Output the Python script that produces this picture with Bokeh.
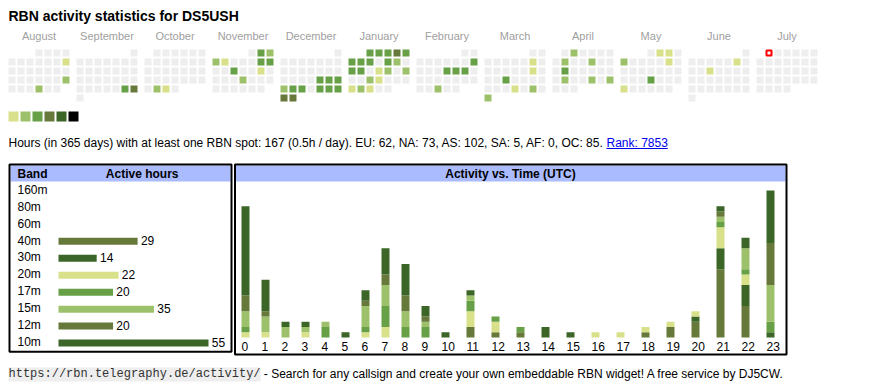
import datetime as dt
import numpy as np
from bokeh.plotting import figure
from bokeh.models import Range1d, ColumnDataSource
from bokeh.core.properties import value
from bokeh.embed import file_html
from bokeh.resources import INLINE

# ---------------- data ----------------
callsign = "DS5USH"
month_names = ["August", "September", "October", "November", "December", "January",
               "February", "March", "April", "May", "June", "July"]
first_year, first_month = 2024, 8
today = "2025-07-01"

active_days = [
    "2024-08-11", "2024-08-25", "2024-08-29",
    "2024-09-28", "2024-09-29",
    "2024-10-29", "2024-10-30",
    "2024-11-02", "2024-11-03", "2024-11-04", "2024-11-05", "2024-11-09", "2024-11-10",
    "2024-11-13", "2024-11-16", "2024-11-21",
    "2024-12-20", "2024-12-21", "2024-12-22", "2024-12-23", "2024-12-24", "2024-12-25",
    "2024-12-27", "2024-12-28", "2024-12-29", "2024-12-30", "2024-12-31",
    "2025-01-01", "2025-01-02", "2025-01-03", "2025-01-04", "2025-01-05", "2025-01-06",
    "2025-01-07", "2025-01-08", "2025-01-10", "2025-01-11", "2025-01-13", "2025-01-14",
    "2025-01-16", "2025-01-17", "2025-01-19", "2025-01-22", "2025-01-23", "2025-01-27",
    "2025-01-28", "2025-01-29",
    "2025-02-09", "2025-02-13", "2025-02-14", "2025-02-15", "2025-02-26",
    "2025-03-08", "2025-03-15", "2025-03-19", "2025-03-27", "2025-03-29", "2025-03-31",
    "2025-04-02", "2025-04-08", "2025-04-11", "2025-04-15", "2025-04-22", "2025-04-25",
    "2025-04-27",
    "2025-05-02", "2025-05-03", "2025-05-05", "2025-05-10", "2025-05-22", "2025-05-26",
    "2025-06-07", "2025-06-11",
]
active_levels = [
    1, 2, 2,
    3, 4,
    2, 1,
    3, 2, 2, 1, 3, 3,
    3, 1, 2,
    3, 3, 3, 2, 3, 3,
    3, 3, 3, 4, 4,
    3, 3, 3, 4, 3, 3,
    3, 3, 3, 2, 3, 3,
    1, 2, 2, 2, 1, 1,
    2, 1,
    3, 3, 3, 3, 2,
    1, 1, 3, 1, 2, 2,
    2, 2, 2, 3, 2, 2,
    2,
    1, 1, 2, 1, 3, 1,
    1, 1,
]
level_colors = ["#eeeeee", "#d9e08a", "#9dc16b", "#67a046", "#66793a", "#3c6627", "#000000"]

stats_text = ("Hours (in 365 days) with at least one RBN spot: 167 (0.5h / day). "
              "EU: 62, NA: 73, AS: 102, SA: 5, AF: 0, OC: 85.")
rank_text = "Rank: 7853"

bands = ["160m", "80m", "60m", "40m", "30m", "20m", "17m", "15m", "12m", "10m"]
band_hours = [0, 0, 0, 29, 14, 22, 20, 35, 20, 55]
band_colors = ["#9dc16b", "#67a046", "#d9e08a", "#66793a", "#3c6627",
               "#d9e08a", "#67a046", "#9dc16b", "#66793a", "#3c6627"]

hours = list(range(24))
hourly = {
    "160m": [0] * 24,
    "80m":  [0] * 24,
    "60m":  [0] * 24,
    "40m":  [0, 0, 0, 0, 0, 0, 0, 0, 0, 0, 0, 2, 1, 1, 0, 0, 0, 0, 1, 2, 3, 13, 6, 0],
    "30m":  [0, 0, 0, 0, 0, 1, 0, 0, 0, 0, 0, 0, 0, 0, 2, 1, 0, 0, 0, 0, 1, 4, 4, 1],
    "20m":  [1, 1, 0, 1, 0, 0, 1, 2, 0, 0, 0, 3, 2, 0, 0, 0, 1, 1, 1, 1, 1, 4, 2, 0],
    "17m":  [1, 0, 0, 0, 2, 0, 1, 4, 2, 2, 0, 2, 1, 1, 0, 0, 0, 0, 0, 0, 0, 1, 1, 2],
    "15m":  [3, 3, 2, 1, 1, 0, 4, 4, 3, 1, 0, 1, 0, 0, 0, 0, 0, 0, 0, 0, 0, 1, 4, 7],
    "12m":  [3, 1, 0, 0, 0, 0, 1, 2, 3, 1, 0, 0, 0, 0, 0, 0, 0, 0, 0, 0, 0, 1, 0, 8],
    "10m":  [17, 6, 1, 1, 0, 0, 2, 5, 6, 2, 1, 1, 0, 0, 0, 0, 0, 0, 0, 0, 0, 1, 2, 10],
}

footer_url = "https://rbn.telegraphy.de/activity/"
footer_text = "- Search for any callsign and create your own embeddable RBN widget! A free service by DJ5CW."

# ---------------- layout (page pixel coordinates) ----------------
W, H = 870, 390
SANS = value("Liberation Sans")
MONO = value("Liberation Mono")


def ty(y, size):
    """baseline position -> glyph anchor used by the renderer"""
    return y - 0.36 * size


HOUR_PX = 5.25          # pixels per hour-count unit
HOUR_BASE = 337         # page y of hour bar baseline
BAND_PX = 150 / 55      # pixels per active hour in band table
BAND_X0 = 58            # page x of band bar start

p = figure(width=W, height=H, x_range=Range1d(0, W), y_range=Range1d(H, 0),
           output_backend="svg", toolbar_location=None, min_border=0,
           x_axis_type=None, y_axis_type=None, outline_line_color=None,
           background_fill_color="white", border_fill_color="white")
p.extra_y_ranges = {"cnt": Range1d(start=(HOUR_BASE - H) / HOUR_PX,
                                   end=HOUR_BASE / HOUR_PX)}
p.extra_x_ranges = {"hrs": Range1d(start=-BAND_X0 / BAND_PX,
                                   end=(W - BAND_X0) / BAND_PX)}

# title
p.text(x=[8], y=[ty(20.5, 14)], text=[f"RBN activity statistics for {callsign}"],
       text_font=SANS, text_font_size="14px", text_font_style="bold",
       text_color="#000000", text_baseline="alphabetic", text_align="left")

# calendar
level_of = dict(zip(active_days, active_levels))
today_d = dt.date.fromisoformat(today)
cal = dict(left=[], right=[], top=[], bottom=[], color=[])
today_cell = None
d = dt.date(first_year, first_month, 1)
end = dt.date(first_year + 1, first_month, 1)
while d < end:
    bi = (d.year - first_year) * 12 + d.month - first_month
    off = d.replace(day=1).weekday()
    row = (d.day - 1 + off) // 7
    col = d.weekday()
    x0 = 8 + 68 * bi + 9 * col
    y0 = 49 + 9 * row
    cal["left"].append(x0); cal["right"].append(x0 + 7)
    cal["top"].append(y0); cal["bottom"].append(y0 + 7)
    cal["color"].append(level_colors[level_of.get(d.isoformat(), 0)])
    if d == today_d:
        today_cell = (x0, y0)
    d += dt.timedelta(days=1)
p.quad(left="left", right="right", top="top", bottom="bottom", fill_color="color",
       line_color=None, source=ColumnDataSource(cal))
if today_cell:
    x0, y0 = today_cell
    p.quad(left=[x0 + 1], right=[x0 + 6], top=[y0 + 1], bottom=[y0 + 6],
           fill_color="white", line_color="#ff0000", line_width=2)

# month labels
p.text(x=[8 + 68 * i + 30.5 for i in range(len(month_names))],
       y=[ty(39, 11)] * len(month_names), text=month_names,
       text_font=SANS, text_font_size="11px", text_color="#a0a0a0",
       text_align="center", text_baseline="alphabetic")

# legend squares
nlev = len(level_colors) - 1
p.quad(left=[8 + 12 * k for k in range(nlev)],
       right=[18 + 12 * k for k in range(nlev)],
       top=[111] * nlev, bottom=[121] * nlev,
       fill_color=level_colors[1:], line_color=None)

# stats line
p.text(x=[8], y=[ty(146.7, 12)], text=[stats_text + " "],
       text_font=SANS, text_font_size="12px", text_color="#000000",
       text_baseline="alphabetic", text_align="left")
rank_x = 606
p.text(x=[rank_x], y=[ty(146.7, 12)], text=[rank_text],
       text_font=SANS, text_font_size="12px", text_color="#0000ee",
       text_baseline="alphabetic", text_align="left")
p.segment(x0=[rank_x], x1=[rank_x + 61.3], y0=[148], y1=[148],
          line_color="#0000ee", line_width=1)

# ---- band table ----
p.quad(left=[10], right=[230], top=[165], bottom=[181],
       fill_color="#aabbff", line_color=None)
p.quad(left=[9], right=[231], top=[164], bottom=[351.3],
       fill_color=None, line_color="#000000", line_width=2)
p.text(x=[17], y=[ty(177.5, 12)], text=["Band"], text_font=SANS, text_font_size="12px",
       text_font_style="bold", text_baseline="alphabetic", text_align="left")
p.text(x=[141.7], y=[ty(177.5, 12)], text=["Active hours"], text_font=SANS,
       text_font_size="12px", text_font_style="bold", text_baseline="alphabetic",
       text_align="center")

row_base = [193.5 + 16.95 * i for i in range(len(bands))]
p.text(x=[17] * len(bands), y=[ty(b, 12) for b in row_base], text=bands, text_font=SANS,
       text_font_size="12px", text_baseline="alphabetic", text_align="left")
act = [i for i, v in enumerate(band_hours) if v > 0]
p.hbar(y=[row_base[i] - 3.5 for i in act], left=0, right=[band_hours[i] for i in act],
       height=7, fill_color=[band_colors[i] for i in act], line_color=None,
       x_range_name="hrs")
p.text(x=[band_hours[i] for i in act], y=[ty(row_base[i], 12) for i in act],
       text=[str(band_hours[i]) for i in act], x_offset=3.3, x_range_name="hrs",
       text_font=SANS, text_font_size="12px", text_baseline="alphabetic",
       text_align="left")

# ---- hourly table ----
p.quad(left=[235], right=[785], top=[165], bottom=[181],
       fill_color="#aabbff", line_color=None)
p.quad(left=[234.5], right=[786], top=[164], bottom=[354],
       fill_color=None, line_color="#000000", line_width=2)
p.text(x=[510], y=[ty(177.5, 12)], text=["Activity vs. Time (UTC)"], text_font=SANS,
       text_font_size="12px", text_font_style="bold", text_baseline="alphabetic",
       text_align="center")

col_w = [20 if h < 10 else 25 for h in hours]
col_left = 241 + np.concatenate([[0], np.cumsum(col_w)[:-1]])

seg = dict(x=[], bottom=[], top=[], color=[])
cum = np.zeros(24)
for b, c in zip(bands, band_colors):
    vals = np.array(hourly[b], dtype=float)
    for h in hours:
        if vals[h] > 0:
            seg["x"].append(float(col_left[h] + 4))
            seg["bottom"].append(cum[h])
            seg["top"].append(cum[h] + vals[h])
            seg["color"].append(c)
    cum += vals
p.vbar(x="x", bottom="bottom", top="top", width=8, fill_color="color", line_color=None,
       y_range_name="cnt", source=ColumnDataSource(seg))
p.text(x=[float(v) for v in col_left], y=[ty(350, 12)] * 24, text=[str(h) for h in hours],
       text_font=SANS, text_font_size="12px", text_baseline="alphabetic",
       text_align="left")

# ---- footer ----
url_w = len(footer_url) * 0.6 * 12
p.quad(left=[8], right=[8 + url_w], top=[367], bottom=[381],
       fill_color="#eeeeee", line_color=None)
p.text(x=[8], y=[ty(378, 12)], text=[footer_url], text_font=MONO, text_font_size="12px",
       text_color="#333333", text_baseline="alphabetic", text_align="left")
p.text(x=[8 + url_w + 3.3], y=[ty(378, 12)], text=[footer_text], text_font=SANS,
       text_font_size="12px", text_baseline="alphabetic", text_align="left")

open("out.html", "w").write(file_html(p, INLINE))
